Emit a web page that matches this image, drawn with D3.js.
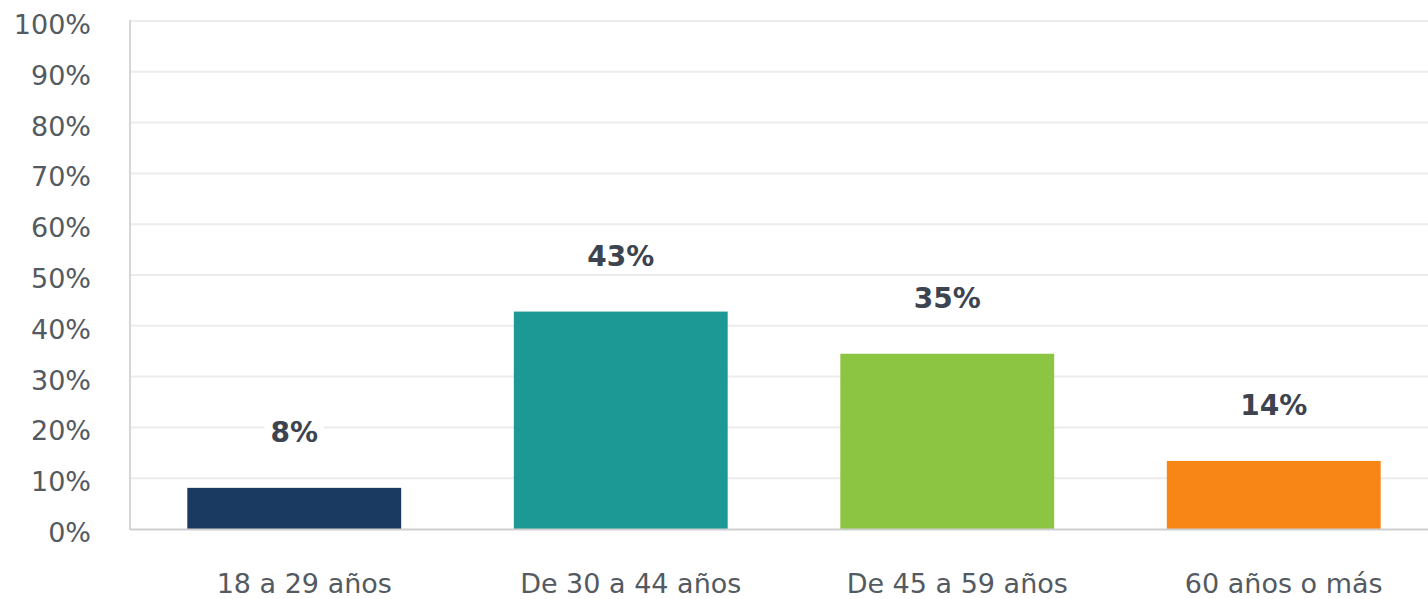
<!DOCTYPE html>
<html>
<head>
<meta charset="utf-8">
<script src="https://cdn.jsdelivr.net/npm/d3@7"></script>
<style>
  body { margin: 0; background: #fff; }
  svg { display: block; font-family: "DejaVu Sans", sans-serif; }
</style>
</head>
<body>
<svg id="chart" width="1428" height="599"></svg>
<script>
var categories = ["18 a 29 años", "De 30 a 44 años", "De 45 a 59 años", "60 años o más"];
var values = [8.1, 42.8, 34.5, 13.4];
var labels = ["8%", "43%", "35%", "14%"];
var colors = ["#1a3a61", "#1c9994", "#8cc541", "#f78617"];
var ticks = [0, 10, 20, 30, 40, 50, 60, 70, 80, 90, 100];

var svg = d3.select("#chart");

var x = d3.scaleBand()
  .domain(categories)
  .range([131, 1437])
  .paddingInner(0.345)
  .paddingOuter(0.1725);

var y = d3.scaleLinear()
  .domain([0, 100])
  .range([529, 21]);

// grid
svg.append("g").selectAll("line")
  .data(ticks.slice(1))
  .enter().append("line")
  .attr("x1", 130).attr("x2", 1428)
  .attr("y1", function(d){ return y(d); })
  .attr("y2", function(d){ return y(d); })
  .attr("stroke", "#ececec")
  .attr("stroke-width", 2);

// y tick labels
svg.append("g").selectAll("text")
  .data(ticks)
  .enter().append("text")
  .attr("x", 91)
  .attr("y", function(d){ return y(d) + 13; })
  .attr("text-anchor", "end")
  .attr("font-size", 27)
  .attr("fill", "#545a61")
  .text(function(d){ return d + "%"; });

// bars
svg.append("g").selectAll("rect")
  .data(values)
  .enter().append("rect")
  .attr("x", function(d, i){ return x(categories[i]); })
  .attr("width", x.bandwidth())
  .attr("y", function(d){ return y(d); })
  .attr("height", function(d){ return y(0) - y(d); })
  .attr("fill", function(d, i){ return colors[i]; });

// axes lines
svg.append("line")
  .attr("x1", 130).attr("x2", 130)
  .attr("y1", 20).attr("y2", 530)
  .attr("stroke", "#d6d6d6").attr("stroke-width", 2);
svg.append("line")
  .attr("x1", 130).attr("x2", 1428)
  .attr("y1", 529.5).attr("y2", 529.5)
  .attr("stroke", "#cfcfcf").attr("stroke-width", 2);

// value labels (white box behind, hides gridline)
var vl = svg.append("g").selectAll("g")
  .data(values)
  .enter().append("g");
var vtext = vl.append("text")
  .attr("x", function(d, i){ return x(categories[i]) + x.bandwidth() / 2; })
  .attr("y", function(d){ return y(d) - 46; })
  .attr("text-anchor", "middle")
  .attr("font-size", 28)
  .attr("font-weight", "bold")
  .attr("fill", "#3d4450")
  .text(function(d, i){ return labels[i]; });
vl.insert("rect", "text")
  .each(function(){
    var b = d3.select(this.parentNode).select("text").node().getBBox();
    d3.select(this)
      .attr("x", b.x - 6).attr("y", b.y + 2)
      .attr("width", b.width + 12).attr("height", b.height - 4)
      .attr("fill", "#fff");
  });

// category labels
svg.append("g").selectAll("text")
  .data(categories)
  .enter().append("text")
  .attr("x", function(d){ return x(d) + x.bandwidth() / 2 + 10; })
  .attr("y", 593)
  .attr("text-anchor", "middle")
  .attr("font-size", 27)
  .attr("fill", "#545a61")
  .text(function(d){ return d; });
</script>
</body>
</html>
